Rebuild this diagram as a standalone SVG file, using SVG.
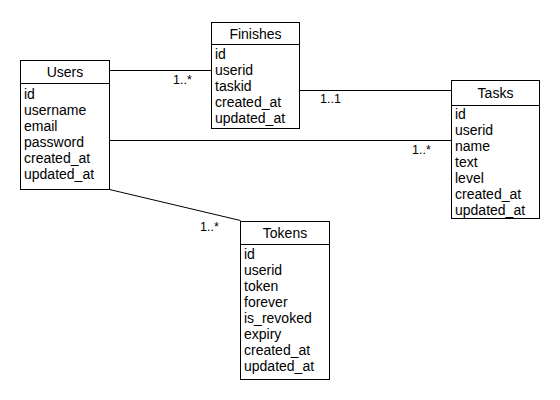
<svg xmlns="http://www.w3.org/2000/svg" width="560" height="400" viewBox="0 0 560 400">
  <style>
    .box { fill: #ffffff; stroke: #000000; stroke-width: 1; }
    .sep { stroke: #000000; stroke-width: 1; }
    .edge { fill: none; stroke: #000000; stroke-width: 1; }
    text { font-family: "Liberation Sans", Arial, sans-serif; font-size: 14px; fill: #000000; }
    .title { text-anchor: middle; }
    .mult { font-size: 12.5px; }
  </style>
  <rect width="560" height="400" fill="#ffffff"/>

  <!-- associations -->
  <g id="connectors">
    <line class="edge" x1="109.5" y1="70.5" x2="211.5" y2="70.5"/>
    <line class="edge" x1="299.5" y1="90.5" x2="451.5" y2="90.5"/>
    <line class="edge" x1="109.5" y1="140.5" x2="451.5" y2="140.5"/>
    <line class="edge" x1="109.5" y1="189.5" x2="240.5" y2="220.5"/>
    <text class="mult" x="173" y="84">1..*</text>
    <text class="mult" x="320" y="103">1..1</text>
    <text class="mult" x="412" y="154">1..*</text>
    <text class="mult" x="200" y="231">1..*</text>
  </g>

  <g id="users">
    <rect class="box" x="20.5" y="60.5" width="89" height="129"/>
    <line class="sep" x1="20.5" y1="83.5" x2="109.5" y2="83.5"/>
    <text class="title" x="65" y="77">Users</text>
    <text x="24" y="98.5">id</text>
    <text x="24" y="114.5">username</text>
    <text x="24" y="130.5">email</text>
    <text x="24" y="146.5">password</text>
    <text x="24" y="162.5">created_at</text>
    <text x="24" y="178.5">updated_at</text>
  </g>

  <g id="finishes">
    <rect class="box" x="211.5" y="22.5" width="88" height="106"/>
    <line class="sep" x1="211.5" y1="44.5" x2="299.5" y2="44.5"/>
    <text class="title" x="255.5" y="39">Finishes</text>
    <text x="215" y="58.5">id</text>
    <text x="215" y="74.5">userid</text>
    <text x="215" y="90.5">taskid</text>
    <text x="215" y="106.5">created_at</text>
    <text x="215" y="122.5">updated_at</text>
  </g>

  <g id="tasks">
    <rect class="box" x="451.5" y="80.5" width="88" height="138"/>
    <line class="sep" x1="451.5" y1="105.5" x2="539.5" y2="105.5"/>
    <text class="title" x="495.5" y="98">Tasks</text>
    <text x="455" y="118.5">id</text>
    <text x="455" y="134.5">userid</text>
    <text x="455" y="150.5">name</text>
    <text x="455" y="166.5">text</text>
    <text x="455" y="182.5">level</text>
    <text x="455" y="198.5">created_at</text>
    <text x="455" y="214.5">updated_at</text>
  </g>

  <g id="tokens">
    <rect class="box" x="240.5" y="221.5" width="89" height="158"/>
    <line class="sep" x1="240.5" y1="244.5" x2="329.5" y2="244.5"/>
    <text class="title" x="285" y="238">Tokens</text>
    <text x="244" y="258.5">id</text>
    <text x="244" y="274.5">userid</text>
    <text x="244" y="290.5">token</text>
    <text x="244" y="306.5">forever</text>
    <text x="244" y="322.5">is_revoked</text>
    <text x="244" y="338.5">expiry</text>
    <text x="244" y="354.5">created_at</text>
    <text x="244" y="370.5">updated_at</text>
  </g>
</svg>
